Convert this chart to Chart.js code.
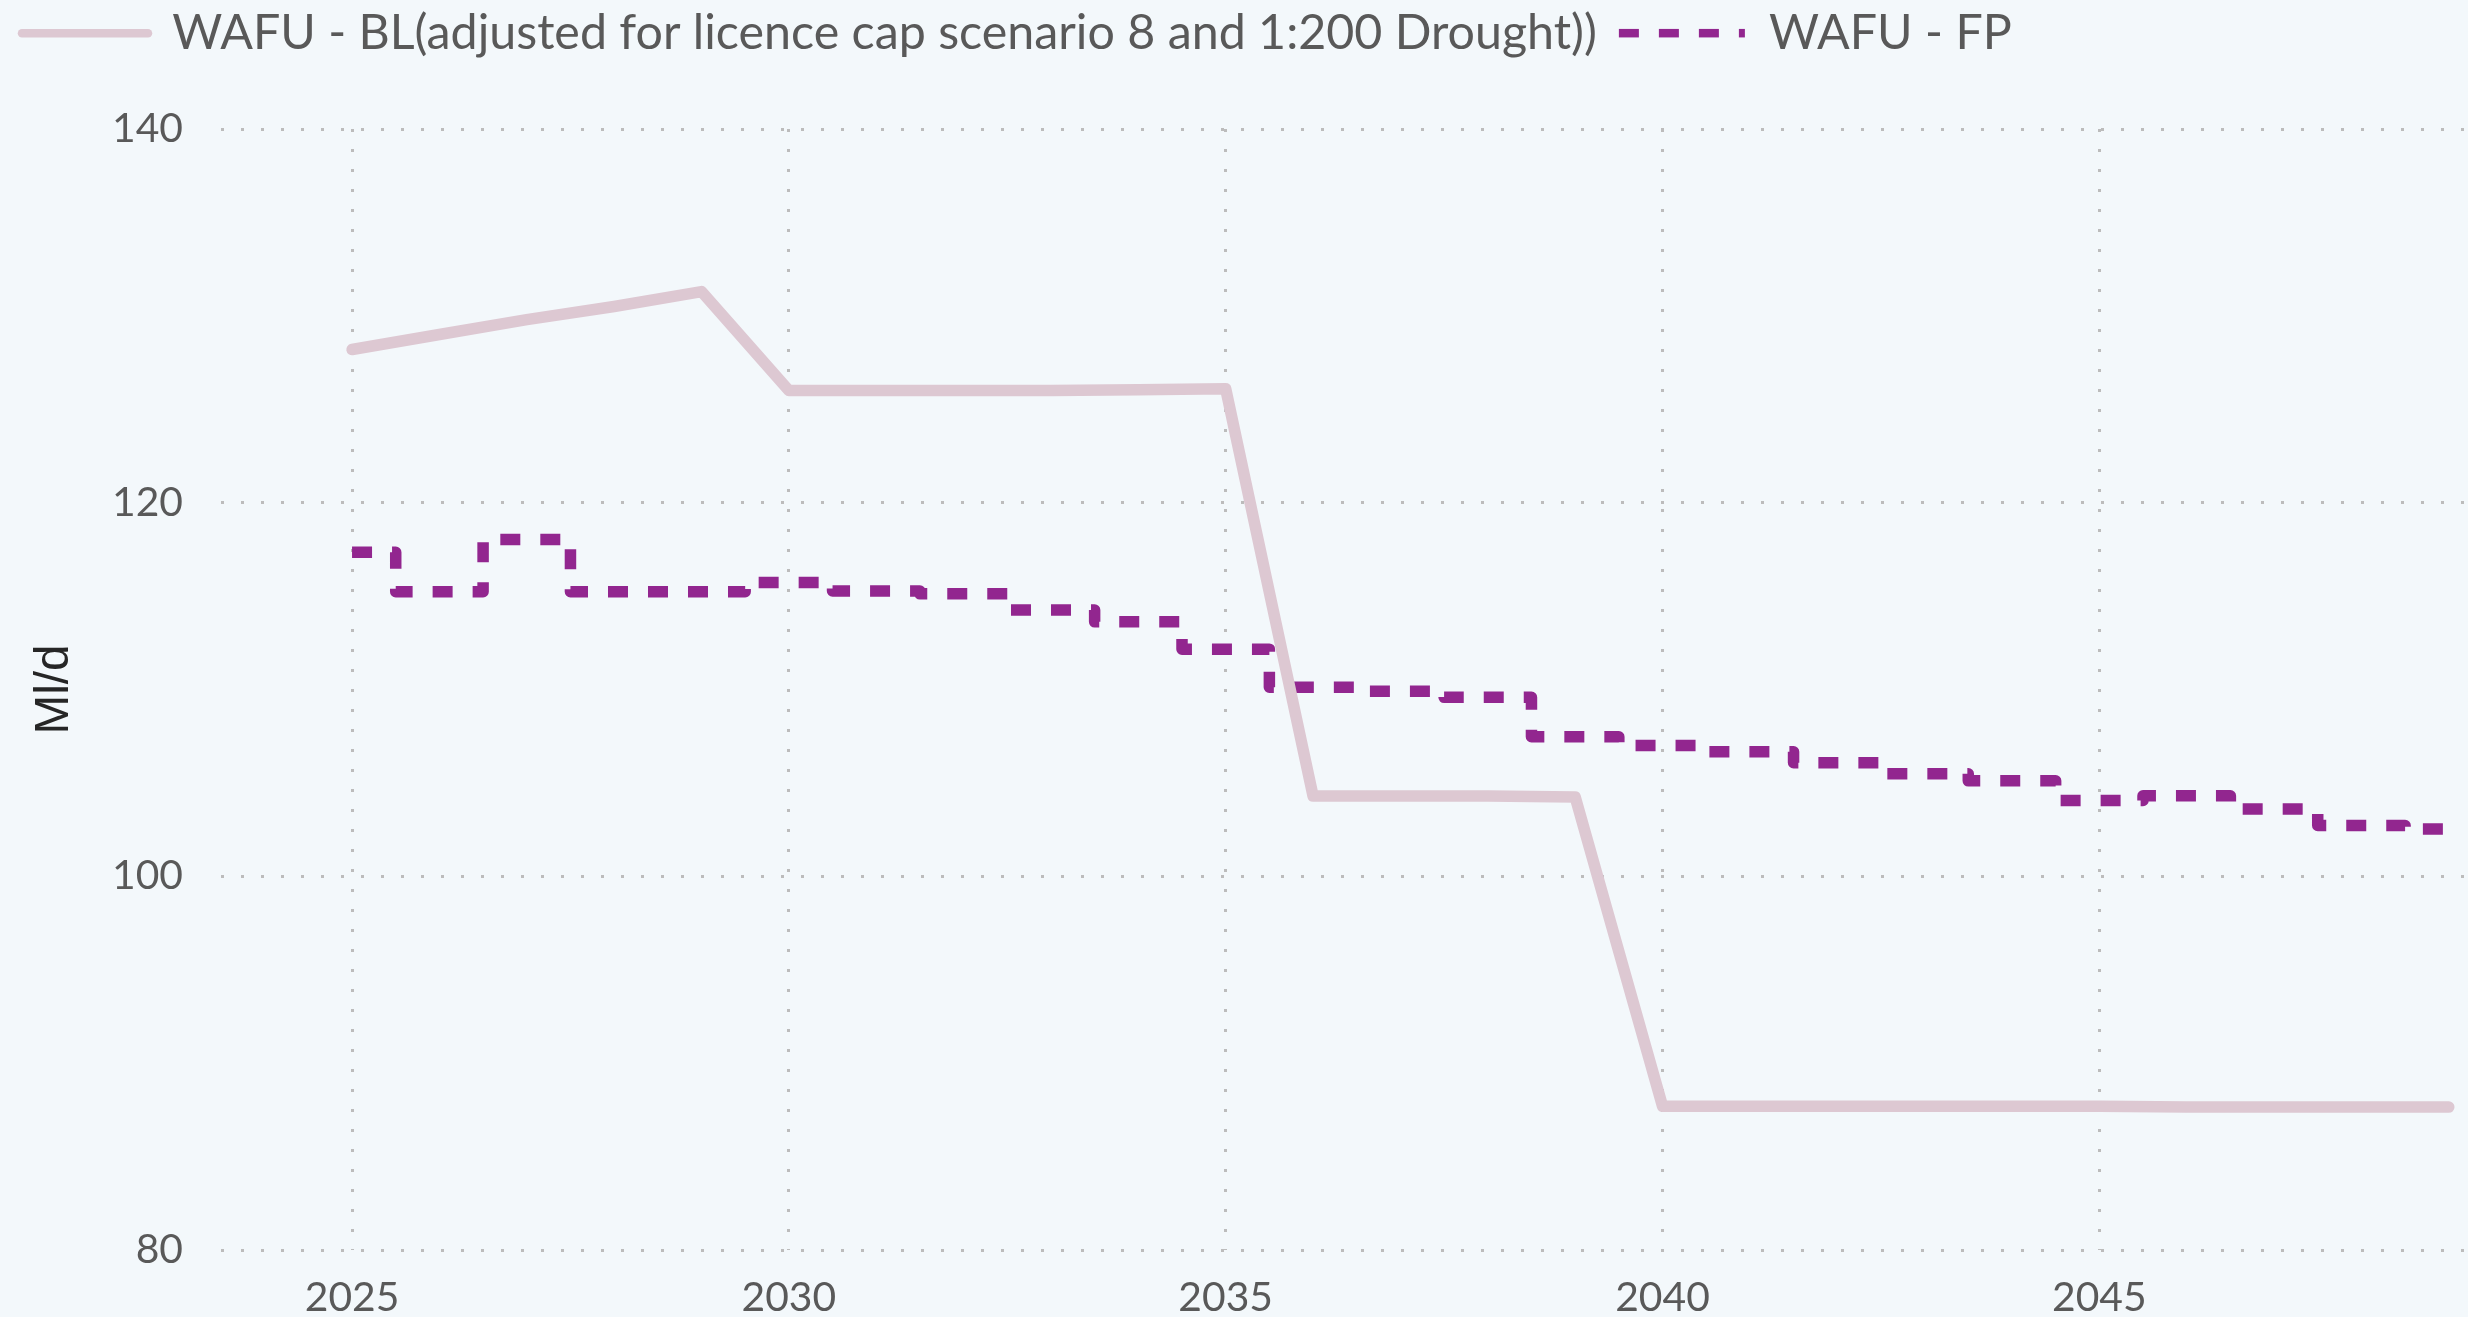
<!DOCTYPE html>
<html>
<head>
<meta charset="utf-8">
<script src="https://cdn.jsdelivr.net/npm/chart.js@4/dist/chart.umd.min.js"></script>
<style>
html,body{margin:0;padding:0;background:#f3f8fb;overflow:hidden}
canvas{display:block}
</style>
</head>
<body>
<canvas id="c" width="2468" height="1317"></canvas>
<script>
// ---- data ----
const years = [2025,2026,2027,2028,2029,2030,2031,2032,2033,2034,2035,2036,2037,2038,2039,2040,2041,2042,2043,2044,2045,2046,2047,2048,2049];
const blValues = [128.2,129.0,129.8,130.5,131.3,126.0,126.0,126.0,126.0,126.05,126.1,104.3,104.3,104.3,104.25,87.7,87.7,87.7,87.7,87.7,87.7,87.65,87.65,87.65,87.65];
const fpValues = [117.34,115.23,118.03,115.23,115.23,115.73,115.27,115.12,114.25,113.62,112.16,110.12,109.91,109.58,107.47,107.0,106.67,106.08,105.49,105.11,104.06,104.31,103.6,102.72,102.54];
const seriesNames = ['WAFU - BL(adjusted for licence cap scenario 8 and 1:200 Drought))', 'WAFU - FP'];
const xTickValues = [2025,2030,2035,2040,2045];
const yTickValues = [80,100,120,140];
const yAxisTitle = 'Ml/d';

// ---- layout ----
const H = 1317;
const AREA = {left: 221, top: 129, bottom: 1250};
const PAD_TOP = -13;

const mctx = document.createElement('canvas').getContext('2d');
function fitSize(text, family, target) {
  mctx.font = '100px ' + family;
  return 100 * target / mctx.measureText(text).width;
}
const legendSize = fitSize(seriesNames[0], 'Lato', 1425);
const tickSize = fitSize('140', 'Lato', 71);
const titleSize = fitSize(yAxisTitle, '"Liberation Sans"', 90);

const gridOpts = {color: '#bcbcbc', lineWidth: 3, drawTicks: false};
const borderOpts = {display: false, dash: [3, 17]};
const tickFmt = v => String(v);

new Chart(document.getElementById('c'), {
  type: 'line',
  data: {
    datasets: [
      {
        label: seriesNames[0],
        data: years.map((x, i) => ({x: x, y: blValues[i]})),
        borderColor: '#ddc8d2',
        backgroundColor: '#ddc8d2',
        borderWidth: 11.5,
        borderCapStyle: 'round',
        borderJoinStyle: 'round',
        pointRadius: 0,
        tension: 0
      },
      {
        label: seriesNames[1],
        data: years.map((x, i) => ({x: x, y: fpValues[i]})),
        borderColor: '#92268f',
        backgroundColor: '#92268f',
        borderWidth: 11.5,
        borderDash: [20, 20],
        borderJoinStyle: 'round',
        stepped: 'middle',
        pointRadius: 0
      }
    ]
  },
  options: {
    responsive: false,
    animation: false,
    devicePixelRatio: 1,
    layout: {padding: {left: 0, right: 0, top: PAD_TOP, bottom: 0}},
    plugins: {
      tooltip: {enabled: false},
      legend: {
        position: 'top',
        align: 'start',
        labels: {
          font: {family: 'Lato', size: legendSize},
          color: '#595959',
          padding: 22,
          usePointStyle: true,
          pointStyle: 'line',
          pointStyleWidth: 126,
          generateLabels(chart) {
            const items = Chart.defaults.plugins.legend.labels.generateLabels(chart);
            items.forEach((it, i) => {
              it.lineWidth = 8.5;
              if (i === 0) { it.lineCap = 'round'; it.lineDash = []; }
              else { it.lineCap = 'butt'; it.lineDash = [20, 20]; it.lineDashOffset = 0; }
            });
            return items;
          }
        }
      }
    },
    scales: {
      x: {
        type: 'linear',
        min: 2023.5,
        max: 2049.22,
        afterBuildTicks(a) { a.ticks = xTickValues.map(v => ({value: v})); },
        afterFit(a) { a.height = H - AREA.bottom; },
        grid: gridOpts,
        border: borderOpts,
        ticks: {font: {family: 'Lato', size: tickSize}, color: '#595959', padding: 23, maxRotation: 0, callback: tickFmt}
      },
      y: {
        type: 'linear',
        min: 80,
        max: 140,
        afterBuildTicks(a) { a.ticks = yTickValues.map(v => ({value: v})); },
        afterFit(a) { a.width = AREA.left; },
        grid: gridOpts,
        border: borderOpts,
        ticks: {font: {family: 'Lato', size: tickSize}, color: '#595959', padding: 38, callback: tickFmt},
        title: {display: true, text: yAxisTitle, font: {family: '"Liberation Sans"', size: titleSize}, color: '#262626', padding: {top: 26, bottom: 0}}
      }
    }
  },
  plugins: [{
    id: 'legendHeight',
    beforeInit(chart) {
      const orig = chart.legend.fit;
      chart.legend.fit = function () { orig.call(this); this.height = AREA.top - PAD_TOP; };
    }
  }]
});
</script>
</body>
</html>
